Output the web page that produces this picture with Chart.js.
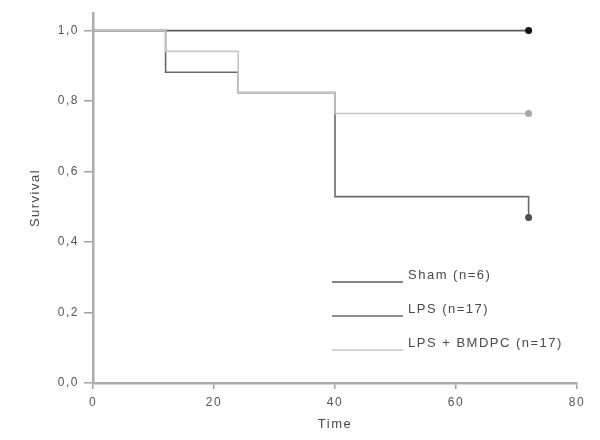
<!DOCTYPE html>
<html>
<head>
<meta charset="utf-8">
<script src="https://cdn.jsdelivr.net/npm/chart.js@4/dist/chart.umd.min.js"></script>
<style>
  body { margin: 0; background: #fff; }
  #wrap { width: 600px; height: 440px; }
</style>
</head>
<body>
<div id="wrap"><canvas id="km" width="600" height="440"></canvas></div>
<script>
// Kaplan-Meier curves: time of each step and survival after it
const groups = ["Sham (n=6)", "LPS (n=17)", "LPS + BMDPC (n=17)"];
const shamTime = [0, 72];
const shamSurv = [1, 1];
const lpsTime = [0, 12, 24, 40, 72];
const lpsSurv = [1, 0.882, 0.824, 0.529, 0.47];
const bmdpcTime = [0, 12, 24, 40, 72];
const bmdpcSurv = [1, 0.941, 0.824, 0.765, 0.765];

const xTicks = ["0", "20", "40", "60", "80"];
const yTicks = ["0,0", "0,2", "0,4", "0,6", "0,8", "1,0"];

const toPoints = (t, s) => t.map((x, i) => ({ x: x, y: s[i] }));
// only the last point gets the censor dot
const lastDot = r => ctx => ctx.dataIndex === ctx.dataset.data.length - 1 ? r : 0;

const lineColors = ["#5a5a5a", "#6a6a6a", "#c6c6c6"];
const dotColors = ["#111111", "#505050", "#a8a8a8"];

// the scanned text is wide, so loosen the letters a bit
const spacing = {
  id: "spacing",
  beforeUpdate(chart) { chart.ctx.letterSpacing = "1.5px"; },
  beforeDraw(chart) { chart.ctx.letterSpacing = "1.5px"; }
};

// own legend, drawn over the lower right of the plot
const kmLegend = {
  id: "kmLegend",
  afterDraw(chart) {
    const c = chart.ctx;
    const rows = [282, 316, 350];
    c.save();
    c.font = "13px 'Liberation Sans', Arial, sans-serif";
    c.fillStyle = "#4a4a4a";
    c.textBaseline = "middle";
    groups.forEach((g, i) => {
      c.strokeStyle = lineColors[i];
      c.lineWidth = 1.6;
      c.beginPath();
      c.moveTo(332, rows[i]);
      c.lineTo(403, rows[i]);
      c.stroke();
      c.fillText(g, 408, rows[i] - 7);
    });
    c.restore();
  }
};

Chart.defaults.font.family = "'Liberation Sans', Arial, sans-serif";
Chart.defaults.color = "#555";

new Chart(document.getElementById("km"), {
  type: "line",
  data: {
    datasets: [
      { label: groups[0], data: toPoints(shamTime, shamSurv), borderColor: lineColors[0], order: 2 },
      { label: groups[1], data: toPoints(lpsTime, lpsSurv), borderColor: lineColors[1], order: 1 },
      { label: groups[2], data: toPoints(bmdpcTime, bmdpcSurv), borderColor: lineColors[2], order: 0 }
    ].map((d, i) => Object.assign(d, {
      stepped: true,
      borderWidth: 1.6,
      fill: false,
      pointRadius: lastDot(3.5),
      pointHoverRadius: 0,
      pointBackgroundColor: dotColors[i],
      pointBorderColor: dotColors[i],
      pointBorderWidth: 0
    }))
  },
  options: {
    responsive: false,
    animation: false,
    layout: { padding: { top: 13, right: 23, left: 0, bottom: 0 } },
    plugins: { legend: { display: false }, tooltip: { enabled: false } },
    scales: {
      x: {
        type: "linear",
        min: 0,
        max: 80,
        afterFit: s => { s.height = 57; },
        ticks: {
          stepSize: 20,
          padding: 6,
          font: { size: 12 },
          callback: (v, i) => xTicks[i]
        },
        grid: { drawOnChartArea: false, tickLength: 6, color: "#a0a0a0", lineWidth: 1.5 },
        border: { color: "#acacac", width: 2.5 },
        title: { display: true, text: "Time", font: { size: 13 }, color: "#4a4a4a", padding: { top: 0, bottom: 8 } }
      },
      y: {
        min: 0,
        max: 1.05,
        afterFit: s => { s.width = 93; },
        ticks: {
          stepSize: 0.2,
          includeBounds: false,
          padding: 5,
          font: { size: 12 },
          callback: (v, i) => yTicks[i]
        },
        grid: { drawOnChartArea: false, tickLength: 9, color: "#a0a0a0", lineWidth: 1.5 },
        border: { color: "#acacac", width: 2.5 },
        title: { display: true, text: "Survival", font: { size: 13 }, color: "#4a4a4a", padding: { top: 28, bottom: 0 } }
      }
    }
  },
  plugins: [spacing, kmLegend]
});
</script>
</body>
</html>
